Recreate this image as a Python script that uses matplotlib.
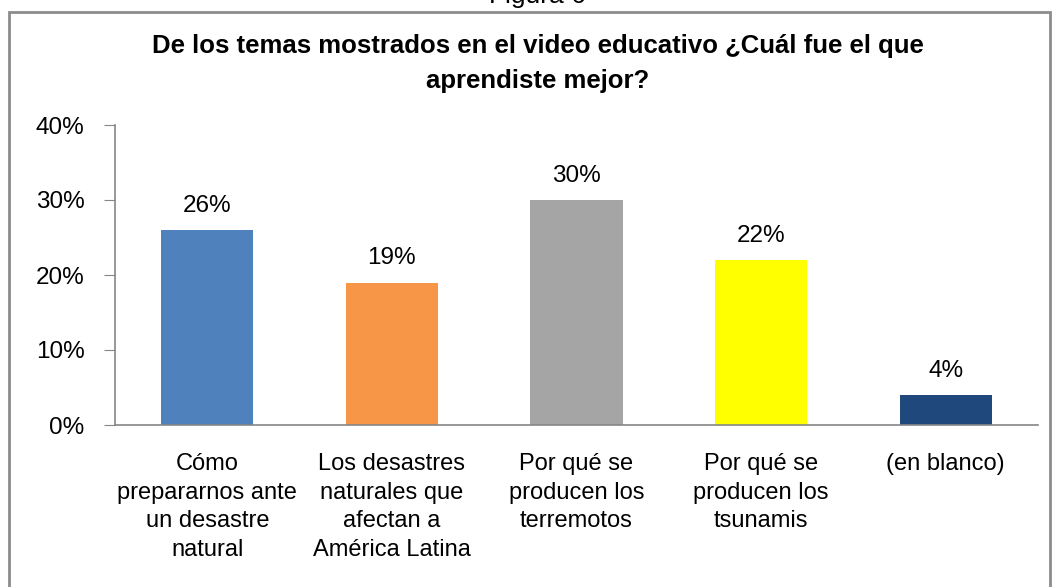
import matplotlib
matplotlib.use('Agg')
import matplotlib.pyplot as plt
from matplotlib.patches import Rectangle
from matplotlib.ticker import FuncFormatter

plt.rcParams['font.family'] = ['Liberation Sans', 'DejaVu Sans']

categories = ['Cómo\nprepararnos ante\nun desastre\nnatural',
              'Los desastres\nnaturales que\nafectan a\nAmérica Latina',
              'Por qué se\nproducen los\nterremotos',
              'Por qué se\nproducen los\ntsunamis',
              '(en blanco)']
values = [26, 19, 30, 22, 4]
colors = ['#4F81BD', '#F79646', '#A5A5A5', '#FFFF00', '#1F497D']
yticks = [0, 10, 20, 30, 40]

title = 'De los temas mostrados en el video educativo ¿Cuál fue el que\naprendiste mejor?'

fig = plt.figure(figsize=(10.54, 5.87), dpi=100)
W, H = 1054, 587

# chart border box
fig.patches.append(Rectangle((9 / W, -0.05), (1050 - 9) / W, 1 - 12 / H + 0.05,
                             transform=fig.transFigure, fill=False,
                             edgecolor='#8C8C8C', linewidth=2))

fig.text(537 / W, 1 - 3 / H, 'Figura 6', ha='center', va='baseline', fontsize=19)

ax = fig.add_axes([115 / W, 162 / H, (1038 - 115) / W, 300 / H])
x = list(range(len(values)))
ax.bar(x, values, width=0.5, color=colors)
ax.set_xlim(-0.5, len(values) - 0.5)
ax.set_ylim(0, 40)
ax.set_yticks(yticks)
ax.yaxis.set_major_formatter(FuncFormatter(lambda v, p: f'{v:.0f}%'))
ax.set_xticks(x)
ax.set_xticklabels(categories, fontsize=17, linespacing=1.4)
ax.tick_params(axis='x', length=0, pad=20)
ax.tick_params(axis='y', length=8, color='#868686', labelsize=17.5, pad=14)

for s in ['top', 'right']:
    ax.spines[s].set_visible(False)
for s in ['left', 'bottom']:
    ax.spines[s].set_color('#868686')
    ax.spines[s].set_linewidth(1.2)

for i, v in enumerate(values):
    ax.annotate(f'{v}%', (i, v), xytext=(0, 13), textcoords='offset points',
                ha='center', va='baseline', fontsize=17.5)

fig.text(0.51, 1 - 34 / H, title, ha='center', va='top', fontsize=18.5,
         fontweight='bold', linespacing=1.6)

fig.savefig('out.png', dpi=100)
